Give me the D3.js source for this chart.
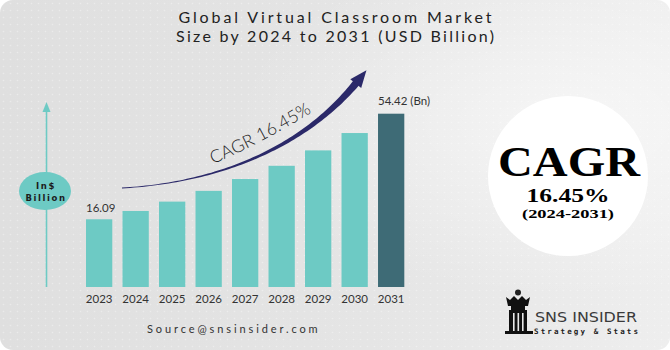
<!DOCTYPE html>
<html><head><meta charset="utf-8">
<script src="https://cdn.jsdelivr.net/npm/d3@7"></script>
<style>html,body{margin:0;padding:0;background:#fff;} svg{display:block;}</style>
</head><body><svg id="c" width="670" height="350"></svg>
<script>
// ---- data ----
const years = ["2023","2024","2025","2026","2027","2028","2029","2030","2031"];
const values = [16.09, 19.1, 22.5, 26.4, 30.7, 35.5, 41.1, 47.4, 54.42];
const firstLabel = "16.09";
const lastLabel = "54.42 (Bn)";
const titleLines = ["Global Virtual Classroom Market", "Size by 2024 to 2031 (USD Billion)"];
const cagrArcText = "CAGR 16.45%";
const cagrBadge = ["CAGR", "16.45%", "(2024-2031)"];
const axisLabel = ["In$", "Billion"];
const sourceText = "Source@snsinsider.com";
const brand = ["SNS INSIDER", "Strategy & Stats"];

// ---- setup ----
const W = 670, H = 350;
const svg = d3.select("#c");
const defs = svg.append("defs");

const bg = defs.append("linearGradient").attr("id","bg").attr("x1","0").attr("x2","1").attr("y1","0").attr("y2","0");
bg.append("stop").attr("offset","0").attr("stop-color","#dfdfdf");
bg.append("stop").attr("offset","0.55").attr("stop-color","#e5e5e5");
bg.append("stop").attr("offset","1").attr("stop-color","#eeeeee");
const hl = defs.append("radialGradient").attr("id","hl").attr("cx","0.85").attr("cy","0.35").attr("r","0.5");
hl.append("stop").attr("offset","0").attr("stop-color","#ffffff").attr("stop-opacity",0.55);
hl.append("stop").attr("offset","1").attr("stop-color","#ffffff").attr("stop-opacity",0);
const pat = defs.append("pattern").attr("id","dots").attr("width",7).attr("height",7).attr("patternUnits","userSpaceOnUse");
pat.append("circle").attr("cx",3.5).attr("cy",3.5).attr("r",0.8).attr("fill","#ffffff").attr("opacity",0.35);

svg.append("rect").attr("x",0).attr("y",0).attr("width",W).attr("height",H).attr("rx",13).attr("fill","url(#bg)");
svg.append("rect").attr("x",0).attr("y",0).attr("width",W).attr("height",H).attr("rx",13).attr("fill","url(#dots)");
svg.append("rect").attr("x",0).attr("y",0).attr("width",W).attr("height",H).attr("rx",13).attr("fill","url(#hl)");

// ---- title ----
const titleWidths = [313, 318];
svg.append("g").selectAll("text").data(titleLines).join("text")
  .attr("x", 335).attr("y", (d,i) => 23 + i*19)
  .attr("text-anchor","middle")
  .attr("font-family","Lato, sans-serif").attr("font-size",16)
  .attr("textLength", (d,i) => titleWidths[i]).attr("lengthAdjust","spacing")
  .attr("fill","#222")
  .text(d => d);

// ---- scales ----
const x = d3.scaleBand().domain(years).range([86, 404.3]).paddingInner(0.28).paddingOuter(0);
const y = d3.scaleLinear().domain([-8.5, 54.42]).range([287, 113.7]);

// ---- bars ----
svg.append("g").selectAll("rect").data(values).join("rect")
  .attr("x", (d,i) => x(years[i]))
  .attr("y", d => y(d))
  .attr("width", x.bandwidth())
  .attr("height", d => y(-8.5) - y(d))
  .attr("fill", (d,i) => i === values.length-1 ? "#3e6b76" : "#6dcac4");

// ---- x axis labels ----
const xAxis = d3.axisBottom(x).tickSize(0).tickPadding(0);
const gx = svg.append("g").attr("transform","translate(0,295)").call(xAxis);
gx.select(".domain").remove();
gx.selectAll("text").attr("font-family","Lato, sans-serif").attr("font-size",11.5).attr("fill","#333").attr("dy","0.71em");

// ---- value labels ----
svg.append("text").attr("x", x(years[0])).attr("y", y(values[0]) - 7)
  .attr("font-family","Lato, sans-serif").attr("font-size",11.5).attr("fill","#333").text(firstLabel);
svg.append("text").attr("x", x(years[years.length-1])).attr("y", y(values[values.length-1]) - 9)
  .attr("font-family","Lato, sans-serif").attr("font-size",11.5).attr("fill","#333").text(lastLabel);

// ---- y axis arrow + label ----
svg.append("line").attr("x1",46.5).attr("x2",46.5).attr("y1",110).attr("y2",287).attr("stroke","#6dcac4").attr("stroke-width",1.6);
svg.append("path").attr("d", d3.line()([[46.5,102],[42.5,112],[50.5,112]]) + "Z").attr("fill","#6dcac4");
svg.append("ellipse").attr("cx",45).attr("cy",191).attr("rx",26).attr("ry",19).attr("fill","#6dcac4");
svg.append("g").selectAll("text").data(axisLabel).join("text")
  .attr("x",46).attr("y",(d,i)=> 189 + i*12).attr("text-anchor","middle")
  .attr("font-family","'DejaVu Sans', sans-serif").attr("font-weight","bold").attr("font-size",8.5)
  .attr("letter-spacing",1.6).attr("fill","#1c1c1c").text(d=>d);

// ---- CAGR arrow ----
const P = [[122,188],[230,182],[310,140],[357,82]];
function bez(t){const m=1-t;return [0,1].map(k=>m*m*m*P[0][k]+3*m*m*t*P[1][k]+3*m*t*t*P[2][k]+t*t*t*P[3][k]);}
function der(t){const m=1-t;return [0,1].map(k=>3*m*m*(P[1][k]-P[0][k])+6*m*t*(P[2][k]-P[1][k])+3*t*t*(P[3][k]-P[2][k]));}
const N = 80, L = [], R = [];
for (let i=0;i<=N;i++){
  const t=i/N, p=bez(t), d=der(t), len=Math.hypot(d[0],d[1]);
  const nx=-d[1]/len, ny=d[0]/len, w=0.4+3.3*Math.pow(t,1.7);
  L.push([p[0]+nx*w,p[1]+ny*w]); R.push([p[0]-nx*w,p[1]-ny*w]);
}
const arrowCol = "#2b2969";
svg.append("path").attr("d", d3.line()(L.concat(R.reverse()))+"Z").attr("fill",arrowCol);
{
  const p=bez(1), d=der(1), len=Math.hypot(d[0],d[1]), ux=d[0]/len, uy=d[1]/len, nx=-uy, ny=ux;
  const head=[[p[0]+ux*15,p[1]+uy*15],[p[0]+nx*7-ux*2,p[1]+ny*7-uy*2],[p[0]-nx*7-ux*2,p[1]-ny*7-uy*2]];
  svg.append("path").attr("d", d3.line()(head)+"Z").attr("fill",arrowCol);
}
defs.append("path").attr("id","cagrPath").attr("d","M213,164 Q262,143 314,111");
svg.append("text").attr("font-family","Lato, sans-serif").attr("font-weight",300).attr("font-size",17.5).attr("fill","#1e1e1e")
  .append("textPath").attr("href","#cagrPath").attr("textLength",112).attr("lengthAdjust","spacing").text(cagrArcText);

// ---- CAGR badge ----
svg.append("circle").attr("cx",568).attr("cy",176).attr("r",80).attr("fill","#ffffff");
const bf = "'Liberation Serif', 'DejaVu Serif', serif";
svg.append("text").attr("x",569).attr("y",176).attr("text-anchor","middle").attr("font-family",bf).attr("font-weight","bold")
  .attr("font-size",42).attr("textLength",142).attr("lengthAdjust","spacingAndGlyphs").attr("fill","#000").text(cagrBadge[0]);
svg.append("text").attr("x",568).attr("y",202).attr("text-anchor","middle").attr("font-family",bf).attr("font-weight","bold")
  .attr("font-size",19).attr("textLength",83).attr("lengthAdjust","spacingAndGlyphs").attr("fill","#000").text(cagrBadge[1]);
svg.append("text").attr("x",568).attr("y",218).attr("text-anchor","middle").attr("font-family",bf).attr("font-weight","bold")
  .attr("font-size",13.5).attr("textLength",92).attr("lengthAdjust","spacingAndGlyphs").attr("fill","#000").text(cagrBadge[2]);

// ---- source ----
svg.append("text").attr("x",147).attr("y",333).attr("font-family","Lato, sans-serif").attr("font-size",11)
  .attr("letter-spacing",2.9).attr("fill","#333").text(sourceText);

// ---- brand logo ----
const lg = svg.append("g");
lg.append("circle").attr("cx",518).attr("cy",292.5).attr("r",3).attr("fill","#222");
lg.append("path").attr("d", d3.line()([[506,297],[510,300],[514,296],[518,300],[522,296],[526,300],[530,297],[528,306],[508,306]])+"Z").attr("fill","#111");
lg.append("rect").attr("x",511).attr("y",306).attr("width",14).attr("height",4).attr("fill","#111");
lg.append("rect").attr("x",509).attr("y",310).attr("width",18).attr("height",22).attr("fill","#111");
[513,517.5,522].forEach(sx => lg.append("rect").attr("x",sx).attr("y",313).attr("width",1.6).attr("height",19).attr("fill","#e8e8e8"));
lg.append("rect").attr("x",505).attr("y",331).attr("width",28).attr("height",3).attr("fill","#111");
lg.append("text").attr("x",535).attr("y",322).attr("font-family","'DejaVu Sans Condensed','DejaVu Sans', sans-serif").attr("font-size",14.5)
  .attr("textLength",102).attr("lengthAdjust","spacingAndGlyphs").attr("fill","#3a3a3a").text(brand[0]);
lg.append("text").attr("x",534).attr("y",334).attr("font-family","'DejaVu Sans Mono', monospace").attr("font-weight","bold").attr("font-size",7.5)
  .attr("textLength",104).attr("lengthAdjust","spacing").attr("fill","#222").text(brand[1]);
</script></body></html>
